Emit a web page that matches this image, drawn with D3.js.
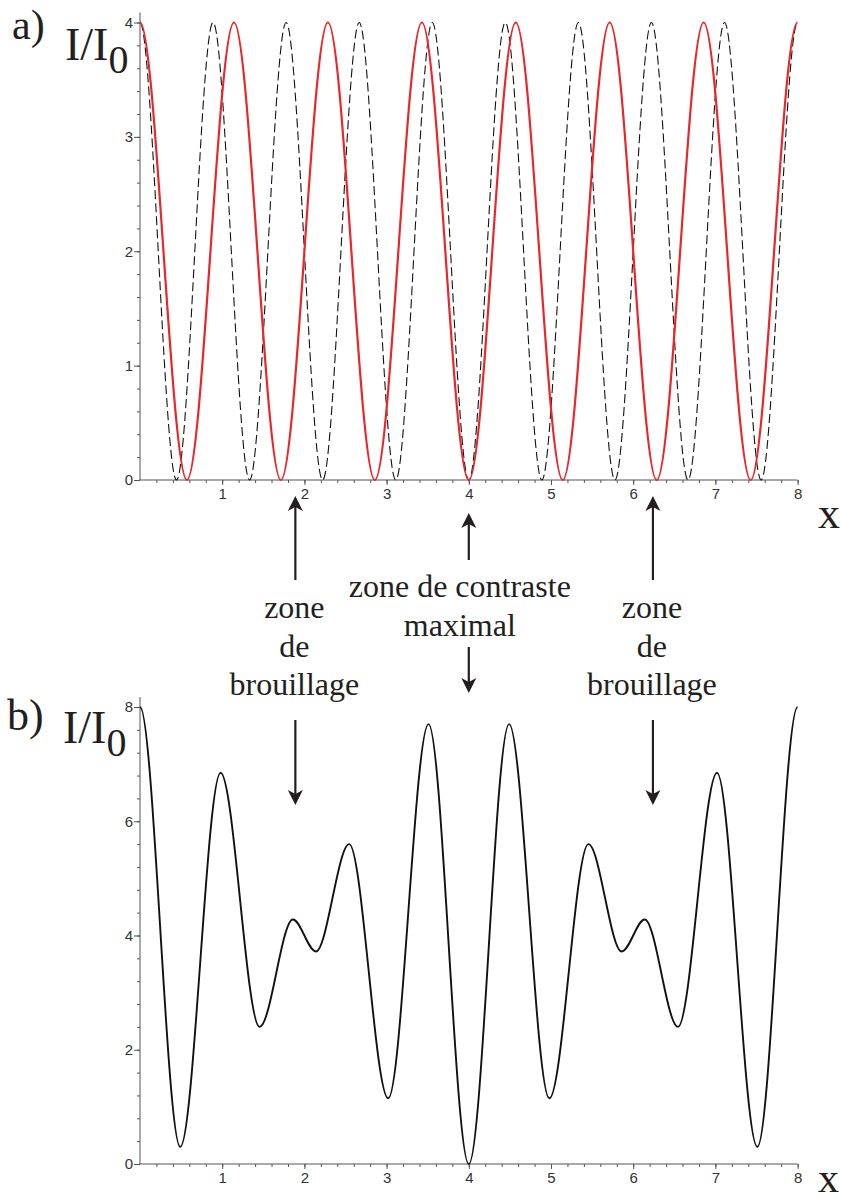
<!DOCTYPE html>
<html>
<head>
<meta charset="utf-8">
<script src="https://cdn.jsdelivr.net/npm/d3@7"></script>
<style>
  body { margin: 0; background: #fff; }
  .axis path, .axis line { stroke: #555; }
  .lbl { font-family: "Liberation Serif", "Times New Roman", serif; fill: #231f20; }
</style>
</head>
<body>
<svg id="fig" width="841" height="1202"></svg>
<script>
// a) red curve : maxima / minima read on the plot
var redX = [0, 0.571, 1.143, 1.714, 2.286, 2.857, 3.429, 4, 4.571, 5.143, 5.714, 6.286, 6.857, 7.429, 8];
var redY = [4, 0, 4, 0, 4, 0, 4, 0, 4, 0, 4, 0, 4, 0, 4];

// a) dashed curve
var dashX = [0, 0.444, 0.889, 1.333, 1.778, 2.222, 2.667, 3.111, 3.556, 4, 4.444, 4.889, 5.333, 5.778, 6.222, 6.667, 7.111, 7.556, 8];
var dashY = [4, 0, 4, 0, 4, 0, 4, 0, 4, 0, 4, 0, 4, 0, 4, 0, 4, 0, 4];

// b) sum of both
var sumX = [0, 0.49, 0.98, 1.455, 1.86, 2.14, 2.545, 3.02, 3.51, 4, 4.49, 4.98, 5.455, 5.86, 6.14, 6.545, 7.02, 7.51, 8];
var sumY = [8, 0.3, 6.85, 2.4, 4.28, 3.72, 5.6, 1.15, 7.7, 0, 7.7, 1.15, 5.6, 3.72, 4.28, 2.4, 6.85, 0.3, 8];

// tick labels
var xTicks = [1, 2, 3, 4, 5, 6, 7, 8];
var aYTicks = [0, 1, 2, 3, 4];
var bYTicks = [0, 2, 4, 6, 8];

// annotations
var noteX = [1.89, 4, 6.24];
var sideLines = ["zone", "de", "brouillage"];
var midLines = ["zone de contraste", "maximal"];

var svg = d3.select("#fig");

var x = d3.scaleLinear().domain([0, 8]).range([140, 797.6]);
var ya = d3.scaleLinear().domain([0, 4]).range([480, 22.5]);
var yb = d3.scaleLinear().domain([0, 8]).range([1164, 707]);

// cubic segments with flat tangent at every point (extrema only data)
function curveFlat(context) {
  return {
    areaStart: function() {}, areaEnd: function() {},
    lineStart: function() { this._x = null; },
    lineEnd: function() {},
    point: function(px, py) {
      if (this._x === null) context.moveTo(px, py);
      else {
        var h = (px - this._x) / 3;
        context.bezierCurveTo(this._x + h, this._y, px - h, py, px, py);
      }
      this._x = px; this._y = py;
    }
  };
}

function tickFont(s) {
  s.selectAll("text")
    .style("font-family", "'Liberation Sans', 'Open Sans', sans-serif")
    .style("font-size", "15px")
    .style("fill", "#333");
}

function axes(y, yTicks, yMinorStep, yTopExtra) {
  var g = svg.append("g").attr("class", "axis");
  var y0 = y(0);

  g.append("g")
    .attr("transform", "translate(0," + y0 + ")")
    .call(d3.axisBottom(x).tickValues(d3.range(0.2, 8.001, 0.2)).tickSize(3).tickFormat(""))
    .call(function(s) { s.select(".domain").remove(); });

  g.append("g")
    .attr("transform", "translate(0," + y0 + ")")
    .call(d3.axisBottom(x).tickValues(xTicks).tickSize(5).tickSizeOuter(0).tickPadding(3).tickFormat(d3.format("d")))
    .call(function(s) { s.select(".domain").attr("d", "M" + (x(0) - 1) + ",0H" + x(8)); })
    .call(tickFont);

  g.append("g")
    .attr("transform", "translate(" + x(0) + ",0)")
    .call(d3.axisLeft(y).tickValues(d3.range(0, y.domain()[1] + 0.001, yMinorStep)).tickSize(3).tickFormat(""))
    .call(function(s) { s.select(".domain").remove(); });

  g.append("g")
    .attr("transform", "translate(" + x(0) + ",0)")
    .call(d3.axisLeft(y).tickValues(yTicks).tickSize(6).tickPadding(1).tickFormat(d3.format("d")))
    .call(function(s) { s.select(".domain").attr("d", "M0," + y0 + "V" + (y(y.domain()[1]) - yTopExtra)); })
    .call(tickFont);
}

axes(ya, aYTicks, 0.2, 10);
axes(yb, bYTicks, 0.4, 10);

function curve(xs, ys, y) {
  return d3.line().curve(curveFlat)
    .x(function(d, i) { return x(xs[i]); })
    .y(function(d, i) { return y(ys[i]); })(xs);
}

svg.append("path")
  .attr("d", curve(dashX, dashY, ya))
  .attr("fill", "none")
  .attr("stroke", "#111")
  .attr("stroke-width", 1.1)
  .attr("stroke-dasharray", "9,4");

svg.append("path")
  .attr("d", curve(redX, redY, ya))
  .attr("fill", "none")
  .attr("stroke", "#e8262b")
  .attr("stroke-width", 2.2);

svg.append("path")
  .attr("d", curve(sumX, sumY, yb))
  .attr("fill", "none")
  .attr("stroke", "#111")
  .attr("stroke-width", 1.9);

// labels
function label(tx, ty, size, str) {
  return svg.append("text").attr("class", "lbl")
    .attr("x", tx).attr("y", ty)
    .style("font-size", size + "px")
    .text(str);
}
function ratio(tx, ty) {
  var t = svg.append("text").attr("class", "lbl").attr("x", tx).attr("y", ty);
  t.append("tspan").style("font-size", "46px").text("I/I");
  t.append("tspan").style("font-size", "40px").attr("dy", 13).text("0");
}

label(12, 39, 42, "a)");
ratio(65, 60);
label(818, 528, 44, "x");

label(7, 730, 44, "b)");
ratio(63, 743);
label(818, 1192, 42, "x");

// arrows
function arrow(ax, yFrom, yTo) {
  var dir = yTo > yFrom ? 1 : -1;
  svg.append("line")
    .attr("x1", ax).attr("x2", ax)
    .attr("y1", yFrom).attr("y2", yTo - dir * 10)
    .attr("stroke", "#231f20").attr("stroke-width", 2.2);
  svg.append("path")
    .attr("d", "M" + ax + "," + yTo +
      "L" + (ax - 7.5) + "," + (yTo - dir * 15) +
      "L" + ax + "," + (yTo - dir * 11) +
      "L" + (ax + 7.5) + "," + (yTo - dir * 15) + "Z")
    .attr("fill", "#231f20");
}

[noteX[0], noteX[2]].forEach(function(v) {
  var ax = x(v);
  arrow(ax, 580, 496);
  arrow(ax, 720, 805);
  sideLines.forEach(function(s, i) {
    svg.append("text").attr("class", "lbl")
      .attr("x", ax - 1).attr("y", 618 + i * 38.5)
      .attr("text-anchor", "middle")
      .style("font-size", "32px")
      .text(s);
  });
});

arrow(x(noteX[1]), 560, 513);
arrow(x(noteX[1]), 647, 693);
midLines.forEach(function(s, i) {
  svg.append("text").attr("class", "lbl")
    .attr("x", x(noteX[1]) - 9).attr("y", 597 + i * 39)
    .attr("text-anchor", "middle")
    .style("font-size", "32px")
    .text(s);
});
</script>
</body>
</html>
